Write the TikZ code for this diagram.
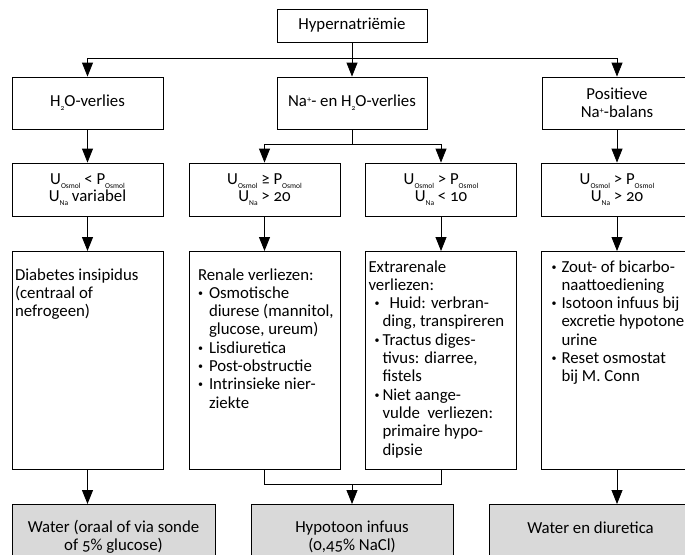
\documentclass[tikz,border=0pt]{standalone}
\usepackage{fontspec}
\setmainfont{Carlito}[Numbers=OldStyle]
\usepackage{tikz}
\usepackage{xcolor}
\usetikzlibrary{arrows.meta, calc, positioning}
\colorlet{boxgrey}{black!15}
\newcommand{\lowtxt}[1]{\raisebox{-0.5ex}{\fontsize{7.5}{7.5}\selectfont #1}}
\newcommand{\hightxt}[1]{\raisebox{0.6ex}{\fontsize{8.5}{8.5}\selectfont #1}}
\newcommand{\bul}[1][10pt]{\makebox[#1][l]{\raisebox{0.25ex}{\fontsize{10}{10}\selectfont\textbullet}}}
\newcommand{\ind}[1][10pt]{\hspace*{#1}}
\newcommand{\celltext}[3]{\parbox[c][218pt][t]{151pt}{\raggedright\leftskip=#2\relax\vspace*{#1}#3}}

\begin{document}
\begin{tikzpicture}[x = 1pt, y = -1pt,
        every node/.style = {font = \fontsize{16.8}{18.3}\selectfont},
        box/.style = {draw, line width = 0.8pt, inner sep = 0pt, align = center, minimum height = 52pt},
        cond/.style = {box, minimum width = 151pt, minimum height = 53pt, font = \fontsize{16.8}{17}\selectfont},
        cause/.style = {draw, line width = 0.8pt, inner sep = 0pt, anchor = north},
        therapy/.style = {box, fill = boxgrey, anchor = north, minimum height = 65pt},
        arr/.style = {-{Triangle[length = 14pt, width = 11pt]}, line width = 0.8pt}]%{{{
                \useasboundingbox (0, 0) rectangle (685, 554);
                \clip (0, 0) rectangle (685, 554);

                \node (Hyper) [box, minimum width = 150pt, minimum height = 33pt] at (352, 25.5) {Hypernatriëmie};

                \node (H2O) [box, minimum width = 151pt] at (87.5, 103) {H\lowtxt{2}O-verlies};
                \node (NaH2O) [box, minimum width = 150pt] at (352, 103) {Na\hightxt{+}- en H\lowtxt{2}O-verlies};
                \node (PosNa) [box, minimum width = 150pt] at (617, 103) {Positieve\\Na\hightxt{+}-balans};

                \node (ULt) [cond] at (87.5, 189.5) {U\lowtxt{Osmol} < P\lowtxt{Osmol}\\U\lowtxt{Na} variabel};
                \node (UGe) [cond] at (264.5, 189.5) {U\lowtxt{Osmol} ≥ P\lowtxt{Osmol}\\U\lowtxt{Na} > 20};
                \node (UGtLo) [cond] at (441, 189.5) {U\lowtxt{Osmol} > P\lowtxt{Osmol}\\U\lowtxt{Na} < 10};
                \node (UGtHi) [cond] at (617, 189.5) {U\lowtxt{Osmol} > P\lowtxt{Osmol}\\U\lowtxt{Na} > 20};

                \node (Diab) [cause] at (87.5, 251) {\celltext{17pt}{3pt}{Diabetes insipidus\\(centraal of\\nefrogeen)}};
                \node (Renal) [cause] at (264.5, 251) {\celltext{17pt}{9pt}{Renale verliezen:\\
                        \bul[11pt]Osmotische\\\ind[11pt]diurese (mannitol,\\\ind[11pt]glucose, ureum)\\
                        \bul[11pt]Lisdiuretica\\\bul[11pt]Post-obstructie\\
                        \bul[11pt]Intrinsieke nier-\\\ind[11pt]ziekte}};
                \node (Extra) [cause] at (441, 251) {\celltext{9pt}{3pt}{Extrarenale\\verliezen:\\
                        \ind[6pt]\bul[15pt]Huid: verbran-\\\ind[14pt]ding, transpireren\\
                        \ind[6pt]\bul[8pt]Tractus diges-\\\ind[14pt]tivus: diarree,\\\ind[14pt]fistels\\
                        \ind[6pt]\bul[8pt]Niet aange-\\\ind[14pt]vulde\ \ verliezen:\\\ind[14pt]primaire hypo-\\\ind[14pt]dipsie}};
                \node (Reset) [cause] at (617, 251) {\celltext{9pt}{10pt}{\bul Zout- of bicarbo-\\\ind naattoediening\\
                        \bul Isotoon infuus bij\\\ind excretie hypotone\\\ind urine\\
                        \bul Reset osmostat\\\ind bij M. Conn}};

                \node (Oraal) [therapy, minimum width = 203pt] at (113.5, 504) {Water (oraal of via sonde\\of 5\% glucose)};
                \node (Infuus) [therapy, minimum width = 202pt] at (352, 504) {Hypotoon infuus\\(0,45\% NaCl)};
                \node (Diuret) [therapy, minimum width = 203pt] at (590.5, 504) {Water en diuretica\\\phantom{X}};

                \coordinate (Bus) at (352, 58);
                \coordinate (Fork) at (352, 144);
                \coordinate (Join) at (352, 484);

                \draw [arr] (Hyper) -- (NaH2O);
                \draw [arr] (Hyper.south) -- (Bus) -| (H2O.north);
                \draw [arr] (Bus) -| (PosNa.north);

                \draw [arr] (H2O) -- (ULt);
                \draw [arr] (NaH2O.south) -- (Fork) -| (UGe.north);
                \draw [arr] (Fork) -| (UGtLo.north);
                \draw [arr] (PosNa) -- (UGtHi);

                \draw [arr] (ULt) -- (Diab);
                \draw [arr] (UGe) -- (Renal);
                \draw [arr] (UGtLo) -- (Extra);
                \draw [arr] (UGtHi) -- (Reset);

                \draw [arr] (Diab.south) -- (Diab.south |- Oraal.north);
                \draw (Renal.south) |- (Join);
                \draw (Extra.south) |- (Join);
                \draw [arr] (Join) -- (Infuus.north);
                \draw [arr] (Reset.south) -- (Reset.south |- Diuret.north);
            \end{tikzpicture}
\end{document}
